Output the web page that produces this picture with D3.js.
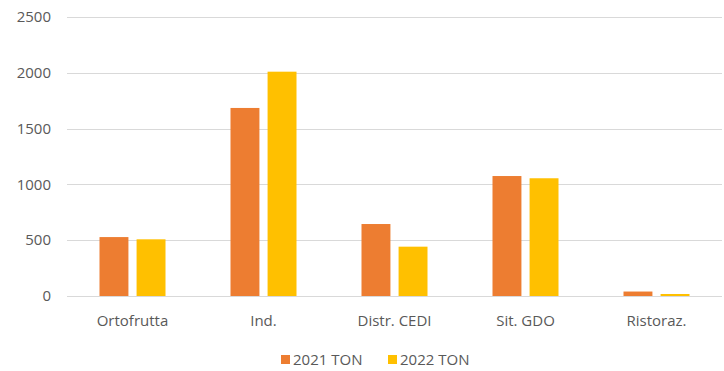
<!DOCTYPE html>
<html>
<head>
<meta charset="utf-8">
<script src="https://cdn.jsdelivr.net/npm/d3@7"></script>
<style>
  html, body { margin: 0; padding: 0; background: #fff; }
  svg text { font-family: "Open Sans", "Liberation Sans", sans-serif; fill: #595959; }
</style>
</head>
<body>
<svg id="chart" width="724" height="371"></svg>
<script>
const categories = ["Ortofrutta", "Ind.", "Distr. CEDI", "Sit. GDO", "Ristoraz."];
const seriesNames = ["2021 TON", "2022 TON"];
const values2021 = [528, 1685, 645, 1075, 40];
const values2022 = [508, 2010, 442, 1055, 18];
const yTicks = [0, 500, 1000, 1500, 2000, 2500];
const colors = ["#ED7D31", "#FFC000"];

const svg = d3.select("#chart");
const margin = { left: 67, right: 2, top: 17, bottom: 75 };
const W = 724, H = 371;

const x0 = d3.scaleBand().domain(categories)
  .range([margin.left, W - margin.right]).paddingInner(0).paddingOuter(0);
const y = d3.scaleLinear().domain([0, 2500]).range([H - margin.bottom, margin.top]);

const groupW = 66;
const x1 = d3.scaleBand().domain(seriesNames).range([0, groupW]).paddingInner(0.22);

// gridlines
svg.append("g").selectAll("line").data(yTicks).join("line")
  .attr("x1", margin.left).attr("x2", W - margin.right)
  .attr("y1", d => Math.round(y(d)) + 0.5).attr("y2", d => Math.round(y(d)) + 0.5)
  .attr("stroke", "#d9d9d9").attr("stroke-width", 1);

// y labels
svg.append("g").selectAll("text").data(yTicks).join("text")
  .attr("x", 51).attr("y", d => y(d)).attr("dy", "0.35em")
  .attr("text-anchor", "end").attr("font-size", 15)
  .text(d => d);

// bars
const data = categories.map((c, i) => ({ cat: c, vals: [values2021[i], values2022[i]] }));
const groups = svg.append("g").selectAll("g").data(data).join("g")
  .attr("transform", d => `translate(${x0(d.cat) + (x0.bandwidth() - groupW) / 2},0)`);
groups.selectAll("rect").data(d => d.vals.map((v, j) => ({ s: seriesNames[j], v, j })))
  .join("rect")
  .attr("x", d => x1(d.s)).attr("width", x1.bandwidth())
  .attr("y", d => y(d.v)).attr("height", d => y(0) - y(d.v))
  .attr("fill", d => colors[d.j]);

// x labels
svg.append("g").selectAll("text").data(categories).join("text")
  .attr("x", d => x0(d) + x0.bandwidth() / 2).attr("y", 326)
  .attr("text-anchor", "middle").attr("font-size", 15)
  .text(d => d);

// legend
const legend = svg.append("g").attr("transform", "translate(281,355)");
const items = legend.selectAll("g").data(seriesNames).join("g")
  .attr("transform", (d, i) => `translate(${i * 107},0)`);
items.append("rect").attr("width", 9).attr("height", 9).attr("fill", (d, i) => colors[i]);
items.append("text").attr("x", 12).attr("y", 5).attr("dy", "0.35em")
  .attr("font-size", 15).text(d => d);
</script>
</body>
</html>
